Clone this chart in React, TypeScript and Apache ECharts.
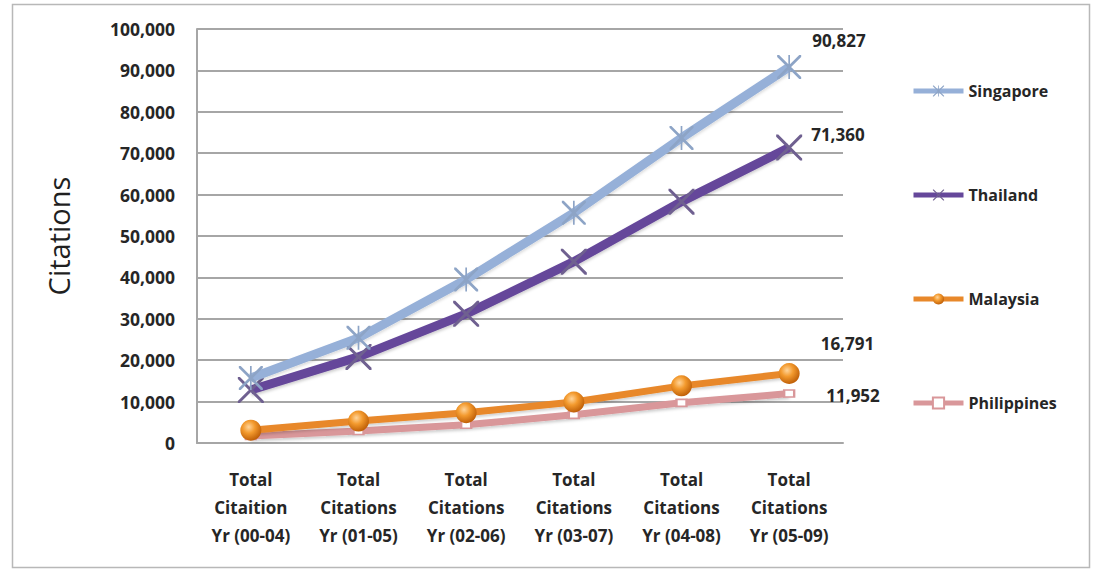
import React, { useEffect, useRef } from "react";
import * as echarts from "echarts";

const categories = [
  "Total\nCitaition\nYr (00-04)",
  "Total\nCitations\nYr (01-05)",
  "Total\nCitations\nYr (02-06)",
  "Total\nCitations\nYr (03-07)",
  "Total\nCitations\nYr (04-08)",
  "Total\nCitations\nYr (05-09)",
];
const singapore = [15700, 25400, 39500, 55600, 73700, 90827];
const thailand = [12800, 20800, 31200, 43800, 58300, 71360];
const malaysia = [3100, 5300, 7300, 9900, 13800, 16791];
const philippines = [1700, 2900, 4400, 6800, 9700, 11952];

const FONT = "'Open Sans', 'Noto Sans', sans-serif";
const fmt = (v: number) => String(v).replace(/\B(?=(\d{3})+(?!\d))/g, ",");

const STAR =
  "path://M0,0 L1.6,0 L20,18.4 L20,20 L18.4,20 L0,1.6 Z M18.4,0 L20,0 L20,1.6 L1.6,20 L0,20 L0,18.4 Z M9.3,0 L10.7,0 L10.7,20 L9.3,20 Z";
const CROSS =
  "path://M0,0 L1.6,0 L20,18.4 L20,20 L18.4,20 L0,1.6 Z M18.4,0 L20,0 L20,1.6 L1.6,20 L0,20 L0,18.4 Z";

function withLastLabel(values: number[], offset: number[]) {
  return values.map((v, i) =>
    i === values.length - 1
      ? {
          value: v,
          label: {
            show: true,
            position: "right",
            offset,
            formatter: (p: any) => fmt(p.value),
            fontFamily: FONT,
            fontWeight: "bold",
            fontSize: 17,
            color: "#262626",
          },
        }
      : v
  );
}

export default function App() {
  const ref = useRef<HTMLDivElement>(null);
  useEffect(() => {
    if (!ref.current) return;
    const chart = echarts.init(ref.current, null, { renderer: "svg" });
    chart.setOption({
      animation: false,
      backgroundColor: "#ffffff",
      graphic: [
        {
          type: "rect",
          shape: { x: 12.5, y: 4.5, width: 1077, height: 563 },
          style: { fill: "none", stroke: "#B8B8B8", lineWidth: 1.5 },
          z: -1,
        },
      ],
      grid: { left: 197, top: 29, right: 252, bottom: 135 },
      legend: {
        orient: "vertical",
        left: 906,
        top: 76,
        itemWidth: 50,
        itemHeight: 14,
        itemGap: 84,
        lineStyle: { width: 5 },
        textStyle: {
          fontFamily: FONT,
          fontWeight: "bold",
          fontSize: 16,
          color: "#262626",
          lineHeight: 20,
        },
        data: ["Singapore", "Thailand", "Malaysia", "Philippines"],
      },
      xAxis: {
        type: "category",
        data: categories,
        boundaryGap: true,
        axisLine: { lineStyle: { color: "#A6A6A6", width: 2 } },
        axisTick: { show: false },
        axisLabel: {
          interval: 0,
          margin: 22,
          fontFamily: FONT,
          fontWeight: "bold",
          fontSize: 17,
          lineHeight: 28,
          color: "#262626",
        },
      },
      yAxis: {
        type: "value",
        min: 0,
        max: 100000,
        interval: 10000,
        name: "Citations",
        nameLocation: "middle",
        nameGap: 124,
        nameTextStyle: { fontFamily: FONT, fontSize: 29, fontWeight: 500, color: "#1F1F1F" },
        axisLine: { show: true, lineStyle: { color: "#A6A6A6", width: 2 } },
        axisTick: { show: false },
        splitLine: { lineStyle: { color: "#A6A6A6", width: 2 } },
        axisLabel: {
          margin: 22,
          fontFamily: FONT,
          fontWeight: "bold",
          fontSize: 17.5,
          color: "#262626",
          formatter: (v: number) => fmt(v),
        },
      },
      series: [
        {
          name: "Philippines",
          type: "line",
          data: withLastLabel(philippines, [26, 2]),
          symbol: "rect",
          symbolSize: [10, 7],
          showAllSymbol: true,
          lineStyle: {
            color: "#D9979A",
            width: 7,
            shadowColor: "rgba(0,0,0,0.2)",
            shadowBlur: 3,
            shadowOffsetY: 2,
          },
          itemStyle: { color: "#FFFFFF", borderColor: "#D9979A", borderWidth: 2 },
          z: 2,
        },
        {
          name: "Malaysia",
          type: "line",
          data: withLastLabel(malaysia, [16, -30]),
          symbol: "circle",
          symbolSize: 21,
          showAllSymbol: true,
          lineStyle: {
            color: "#E8882A",
            width: 7,
            shadowColor: "rgba(0,0,0,0.2)",
            shadowBlur: 3,
            shadowOffsetY: 2,
          },
          itemStyle: {
            color: new echarts.graphic.RadialGradient(0.4, 0.35, 0.65, [
              { offset: 0, color: "#FFD49A" },
              { offset: 0.45, color: "#F39A2E" },
              { offset: 1, color: "#C06008" },
            ]),
          },
          z: 3,
        },
        {
          name: "Thailand",
          type: "line",
          data: withLastLabel(thailand, [4, -13]),
          symbol: CROSS,
          symbolSize: 26,
          showAllSymbol: true,
          lineStyle: {
            color: "#65479A",
            width: 9,
            shadowColor: "rgba(0,0,0,0.2)",
            shadowBlur: 3,
            shadowOffsetY: 2,
          },
          itemStyle: { color: "#6F6090" },
          z: 4,
        },
        {
          name: "Singapore",
          type: "line",
          data: withLastLabel(singapore, [6, -26]),
          symbol: STAR,
          symbolSize: 24,
          showAllSymbol: true,
          lineStyle: {
            color: "#96B0D8",
            width: 9,
            shadowColor: "rgba(0,0,0,0.15)",
            shadowBlur: 3,
            shadowOffsetY: 2,
          },
          itemStyle: { color: "#8DA4C6" },
          z: 5,
        },
      ],
    });
    return () => chart.dispose();
  }, []);
  return (
    <div
      ref={ref}
      style={{ position: "fixed", left: 0, top: 0, width: 1095, height: 578 }}
    />
  );
}
